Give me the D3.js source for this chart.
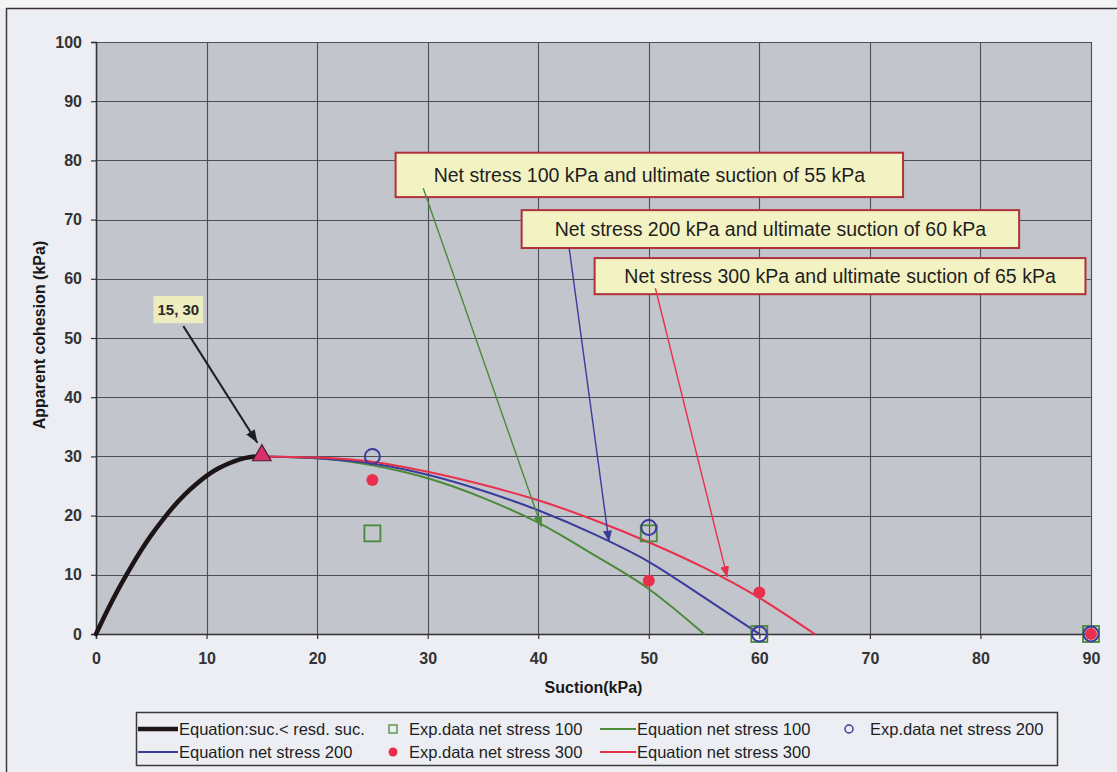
<!DOCTYPE html>
<html>
<head>
<meta charset="utf-8">
<script src="https://cdn.jsdelivr.net/npm/d3@7"></script>
<style>
  html, body { margin: 0; padding: 0; background: #eef0f5; }
  svg { display: block; font-family: "Liberation Sans", Arial, Helvetica, sans-serif; }
</style>
</head>
<body>
<svg id="chart" width="1117" height="772"></svg>
<script>
// ---- Axis ticks ----
const suctionTicks = [0, 10, 20, 30, 40, 50, 60, 70, 80, 90];
const cohesionTicks = [0, 10, 20, 30, 40, 50, 60, 70, 80, 90, 100];

// ---- Equation below residual suction (0 .. 15 kPa) ----
const residualSuction  = [0, 1, 2, 3, 4, 5, 6, 7, 8, 9, 10, 11, 12, 13, 14, 15];
const residualCohesion = [0, 3.9, 7.5, 10.8, 13.9, 16.7, 19.2, 21.5, 23.5, 25.2, 26.7, 27.9, 28.8, 29.5, 29.9, 30];

// ---- Equation curves beyond residual suction ----
const suction100  = [15, 20, 25, 30, 35, 40, 45, 50, 55];
const cohesion100 = [30, 29.7, 28.5, 26.3, 23.0, 18.8, 13.4, 7.6, 0];
const suction200  = [15, 20, 25, 30, 35, 40, 45, 50, 55, 60];
const cohesion200 = [30, 29.7, 28.8, 26.9, 24.2, 20.9, 16.9, 12.2, 6.2, 0];
const suction300  = [15, 20, 25, 30, 35, 40, 45, 50, 55, 60, 65];
const cohesion300 = [30, 29.8, 29.1, 27.4, 25.2, 22.6, 19.3, 15.5, 11.2, 6.1, 0];

// ---- Experimental data ----
const expSuction  = [25, 50, 60, 90];
const exp100      = [17, 17, 0, 0];
const exp200      = [30, 18, 0, 0];
const exp300      = [26, 9, 7, 0];

// ---- Residual point ----
const peakSuction  = [15];
const peakCohesion = [30];

// ---- Callout texts ----
const calloutTexts = [
  "Net stress 100 kPa and ultimate suction of 55 kPa",
  "Net stress 200 kPa and ultimate suction of 60 kPa",
  "Net stress 300 kPa and ultimate suction of 65 kPa"
];
const peakLabel = "15, 30";

// ---- Legend labels ----
const legendLabels = [
  "Equation:suc.< resd. suc.",
  "Exp.data net stress 100",
  "Equation net stress 100",
  "Exp.data net stress 200",
  "Equation net stress 200",
  "Exp.data net stress 300",
  "Equation net stress 300"
];

const xTitle = "Suction(kPa)";
const yTitle = "Apparent cohesion (kPa)";

// ---- Styling ----
const C = {
  outerBg: "#eceef4",
  plotBg: "#c3c5cd",
  grid: "#4e4e56",
  black: "#1c1416",
  green: "#4b8a3a",
  blue: "#3a3c9c",
  red: "#e8304c",
  magenta: "#d8306a",
  text: "#2a2a2a",
  calloutFill: "#f3f2c2",
  calloutStroke: "#b0303c",
  labelFill: "#eeedc0"
};

const W = 1117, H = 772;
const plot = { left: 96, right: 1091, top: 42, bottom: 634 };

const svg = d3.select("#chart");

const x = d3.scaleLinear().domain([0, 90]).range([plot.left, plot.right]);
const y = d3.scaleLinear().domain([0, 100]).range([plot.bottom, plot.top]);

// background and page frame
svg.append("rect").attr("width", W).attr("height", H).attr("fill", C.outerBg);
svg.append("rect").attr("width", W).attr("height", 8).attr("fill", "#f4f4f6");
svg.append("line").attr("x1", 6).attr("x2", W).attr("y1", 8.5).attr("y2", 8.5)
  .attr("stroke", "#3a3030").attr("stroke-width", 1.5);
svg.append("line").attr("x1", 6.5).attr("x2", 6.5).attr("y1", 8).attr("y2", H)
  .attr("stroke", "#3a3a3a").attr("stroke-width", 1.5);

// plot area
svg.append("rect")
  .attr("x", plot.left).attr("y", plot.top)
  .attr("width", plot.right - plot.left).attr("height", plot.bottom - plot.top)
  .attr("fill", C.plotBg);

// grid
const grid = svg.append("g").attr("stroke", C.grid).attr("stroke-width", 1.1);
grid.selectAll("line.h").data(cohesionTicks).join("line")
  .attr("x1", plot.left).attr("x2", plot.right)
  .attr("y1", d => Math.round(y(d)) + 0.5).attr("y2", d => Math.round(y(d)) + 0.5);
grid.selectAll("line.v").data(suctionTicks).join("line")
  .attr("y1", plot.top).attr("y2", plot.bottom)
  .attr("x1", d => Math.round(x(d)) + 0.5).attr("x2", d => Math.round(x(d)) + 0.5);

// axes
const yAxis = svg.append("g").attr("transform", `translate(${plot.left},0)`)
  .call(d3.axisLeft(y).tickValues(cohesionTicks).tickSize(5).tickPadding(9).tickFormat(d3.format("d")));
const xAxis = svg.append("g").attr("transform", `translate(0,${plot.bottom})`)
  .call(d3.axisBottom(x).tickValues(suctionTicks).tickSize(5).tickPadding(14).tickFormat(d3.format("d")));
[xAxis, yAxis].forEach(g => {
  g.select(".domain").attr("stroke", "#333").attr("stroke-width", 1.5);
  g.selectAll(".tick line").attr("stroke", "#333").attr("stroke-width", 1.2);
  g.selectAll(".tick text").attr("fill", "#333").attr("font-size", 16)
    .attr("font-weight", "bold").attr("font-family", "Liberation Sans, Arial, sans-serif");
});

// axis titles
svg.append("text")
  .attr("x", (plot.left + plot.right) / 2).attr("y", 693)
  .attr("text-anchor", "middle").attr("font-size", 16).attr("font-weight", "bold")
  .attr("fill", "#1a1a1a").text(xTitle);
svg.append("text")
  .attr("transform", `translate(45,335) rotate(-90)`)
  .attr("text-anchor", "middle").attr("font-size", 16).attr("font-weight", "bold")
  .attr("fill", "#1a1a1a").text(yTitle);

// curves
const zip = (xs, ys) => xs.map((v, i) => [v, ys[i]]);
const line = d3.line().x(d => x(d[0])).y(d => y(d[1])).curve(d3.curveMonotoneX);

const curves = svg.append("g").attr("fill", "none").attr("stroke-linecap", "round");
curves.append("path").datum(zip(suction100, cohesion100)).attr("d", line)
  .attr("stroke", C.green).attr("stroke-width", 2);
curves.append("path").datum(zip(suction200, cohesion200)).attr("d", line)
  .attr("stroke", C.blue).attr("stroke-width", 2);
curves.append("path").datum(zip(suction300, cohesion300)).attr("d", line)
  .attr("stroke", C.red).attr("stroke-width", 2);
curves.append("path").datum(zip(residualSuction, residualCohesion)).attr("d", line)
  .attr("stroke", C.black).attr("stroke-width", 4.5);

// experimental markers
const marks = svg.append("g");
marks.selectAll("rect.e100").data(zip(expSuction, exp100)).join("rect")
  .attr("x", d => x(d[0]) - 8).attr("y", d => y(d[1]) - 8)
  .attr("width", 16).attr("height", 16)
  .attr("fill", "none").attr("stroke", C.green).attr("stroke-width", 1.8);
marks.selectAll("circle.e200").data(zip(expSuction, exp200)).join("circle")
  .attr("cx", d => x(d[0])).attr("cy", d => y(d[1])).attr("r", 7.5)
  .attr("fill", "none").attr("stroke", C.blue).attr("stroke-width", 2);
marks.selectAll("circle.e300").data(zip(expSuction, exp300)).join("circle")
  .attr("class", "e300")
  .attr("cx", d => x(d[0])).attr("cy", d => y(d[1])).attr("r", 6)
  .attr("fill", C.red);

// residual point triangle
const tri = d3.symbol().type(d3.symbolTriangle).size(150);
marks.selectAll("path.peak").data(zip(peakSuction, peakCohesion)).join("path")
  .attr("transform", d => `translate(${x(d[0])},${y(d[1]) - 1})`)
  .attr("d", tri).attr("fill", C.magenta).attr("stroke", "#4a2030").attr("stroke-width", 1.2);

// arrow markers
const defs = svg.append("defs");
function arrowMarker(id, color, len, wid) {
  defs.append("marker").attr("id", id)
    .attr("viewBox", `0 0 ${len} ${wid}`).attr("refX", len).attr("refY", wid / 2)
    .attr("markerWidth", len).attr("markerHeight", wid)
    .attr("markerUnits", "userSpaceOnUse").attr("orient", "auto")
    .append("path").attr("d", `M0,0 L${len},${wid / 2} L0,${wid} Z`).attr("fill", color);
}
arrowMarker("ah-green", C.green, 11, 9);
arrowMarker("ah-blue", C.blue, 11, 9);
arrowMarker("ah-red", C.red, 11, 9);
arrowMarker("ah-black", "#1e1e24", 13, 10);

// callouts: box extents and arrow endpoints in data units
const callouts = [
  { text: calloutTexts[0], box: [27.1, 73.0, 81.3, 73.8], from: [29.6, 75.3], to: [40.3, 18.1], color: C.green, head: "ah-green" },
  { text: calloutTexts[1], box: [38.5, 83.5, 71.6, 65.2], from: [42.8, 65.2], to: [46.4, 15.6], color: C.blue, head: "ah-blue" },
  { text: calloutTexts[2], box: [45.1, 89.5, 63.5, 57.4], from: [50.6, 58.4], to: [57.1, 9.6], color: C.red, head: "ah-red" }
];

const ann = svg.append("g");
callouts.forEach(c => {
  const g = ann.append("g");
  g.append("rect")
    .attr("x", x(c.box[0])).attr("y", y(c.box[2]))
    .attr("width", x(c.box[1]) - x(c.box[0])).attr("height", y(c.box[3]) - y(c.box[2]))
    .attr("fill", C.calloutFill).attr("stroke", C.calloutStroke).attr("stroke-width", 2);
  g.append("text")
    .attr("x", (x(c.box[0]) + x(c.box[1])) / 2)
    .attr("y", (y(c.box[2]) + y(c.box[3])) / 2)
    .attr("dy", "0.36em").attr("text-anchor", "middle")
    .attr("font-size", 19.5).attr("fill", "#1e1e1e").text(c.text);
});
callouts.forEach(c => {
  ann.append("line")
    .attr("x1", x(c.from[0])).attr("y1", y(c.from[1]))
    .attr("x2", x(c.to[0])).attr("y2", y(c.to[1]))
    .attr("stroke", c.color).attr("stroke-width", 1.4)
    .attr("marker-end", `url(#${c.head})`);
});

// residual point label with arrow
const peakBox = [5.2, 9.7, 57.1, 52.5];
ann.append("rect")
  .attr("x", x(peakBox[0])).attr("y", y(peakBox[2]))
  .attr("width", x(peakBox[1]) - x(peakBox[0])).attr("height", y(peakBox[3]) - y(peakBox[2]))
  .attr("fill", C.labelFill);
ann.append("text")
  .attr("x", (x(peakBox[0]) + x(peakBox[1])) / 2)
  .attr("y", (y(peakBox[2]) + y(peakBox[3])) / 2)
  .attr("dy", "0.36em").attr("text-anchor", "middle")
  .attr("font-size", 15).attr("font-weight", "bold").attr("fill", "#2a2a2a").text(peakLabel);
ann.append("line")
  .attr("x1", x(7.9)).attr("y1", y(52.0))
  .attr("x2", x(14.6)).attr("y2", y(32.3))
  .attr("stroke", "#1e1e24").attr("stroke-width", 2)
  .attr("marker-end", "url(#ah-black)");

// legend
const legend = svg.append("g");
legend.append("rect").attr("x", 136.5).attr("y", 712.5).attr("width", 921).attr("height", 53)
  .attr("fill", C.outerBg).attr("stroke", "#3a3a3a").attr("stroke-width", 1.5);

const legendStyles = [
  { kind: "line", color: C.black, width: 4.5 },
  { kind: "square", color: C.green },
  { kind: "line", color: C.green, width: 2 },
  { kind: "circle", color: C.blue },
  { kind: "line", color: C.blue, width: 2 },
  { kind: "dot", color: C.red },
  { kind: "line", color: C.red, width: 2 }
];
const colSym = [138, 393, 600, 849];
const colText = [179, 409, 637, 870];
const rowY = [729, 752];

legendLabels.forEach((label, i) => {
  const col = i % 4, row = Math.floor(i / 4);
  const st = legendStyles[i];
  const g = legend.append("g");
  const cy = rowY[row];
  if (st.kind === "line") {
    g.append("line").attr("x1", colSym[col]).attr("x2", colText[col] - 1)
      .attr("y1", cy).attr("y2", cy).attr("stroke", st.color).attr("stroke-width", st.width);
  } else if (st.kind === "square") {
    g.append("rect").attr("x", colSym[col] - 4).attr("y", cy - 4).attr("width", 8).attr("height", 8)
      .attr("fill", "none").attr("stroke", st.color).attr("stroke-width", 1.3);
  } else if (st.kind === "circle") {
    g.append("circle").attr("cx", colSym[col]).attr("cy", cy).attr("r", 4)
      .attr("fill", "none").attr("stroke", st.color).attr("stroke-width", 1.5);
  } else {
    g.append("circle").attr("cx", colSym[col]).attr("cy", cy).attr("r", 4.5).attr("fill", st.color);
  }
  g.append("text").attr("x", colText[col]).attr("y", cy).attr("dy", "0.36em")
    .attr("font-size", 16.5).attr("fill", "#1e1e1e").text(label);
});
</script>
</body>
</html>
